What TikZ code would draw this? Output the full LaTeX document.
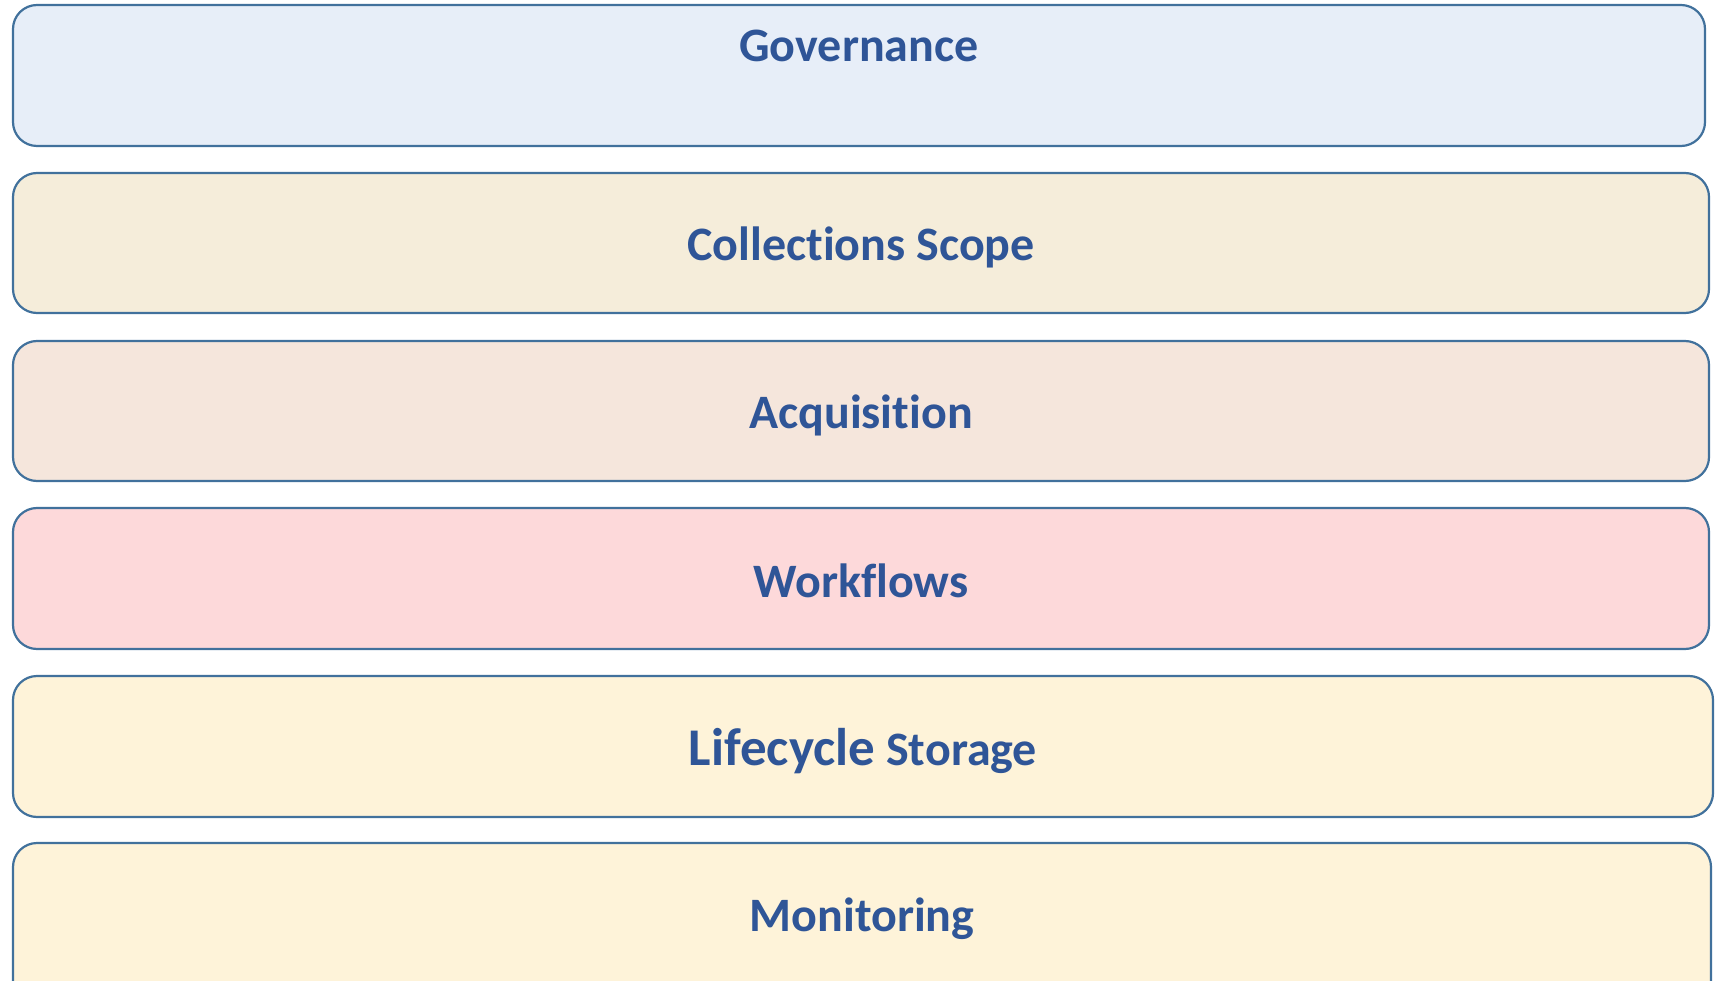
\documentclass[tikz,border=0pt]{standalone}
\usepackage{fontspec}
\setmainfont[RawFeature={-liga;-clig;-dlig}]{Carlito}
\begin{document}
\begin{tikzpicture}[x=1pt,y=-1pt,
  lane/.style={draw=laneborder, line width=2.2pt, rounded corners=24pt, inner sep=0pt},
  lbl/.style={text=labelblue, font=\bfseries\fontsize{48}{56}\selectfont, inner sep=0pt}]
\definecolor{laneborder}{HTML}{41719C}
\definecolor{labelblue}{HTML}{2F5597}
\definecolor{govfill}{HTML}{E7EEF8}
\definecolor{colfill}{HTML}{F5EDDA}
\definecolor{acqfill}{HTML}{F5E6DC}
\definecolor{wffill}{HTML}{FDD9DA}
\definecolor{lcfill}{HTML}{FEF3D9}
\useasboundingbox (0,0) rectangle (1718,981);
\begin{scope}
\clip (0,0) rectangle (1718,981);
\draw[lane, fill=govfill] (13,5) rectangle (1705,146);
\draw[lane, fill=colfill] (13,173) rectangle (1709,313);
\draw[lane, fill=acqfill] (13,341) rectangle (1709,481);
\draw[lane, fill=wffill] (13,508) rectangle (1709,649);
\draw[lane, fill=lcfill] (13,676) rectangle (1713,817);
\draw[lane, fill=lcfill] (13,843) rectangle (1711,1010);
\end{scope}
\node[lbl] (gov) at (859,46) {Governance};
\node[lbl] (col) at (861,247) {Collections Scope};
\node[lbl] (acq) at (861,415) {Acquisition};
\node[lbl] (wf) at (861,581) {Workflows};
\node[lbl] (lc) at (863,751) {{\fontsize{53}{60}\selectfont Lifecycle} {\fontsize{48}{56}\selectfont Storage}};
\node[lbl] (mon) at (862,919) {Monitoring};
\end{tikzpicture}
\end{document}
